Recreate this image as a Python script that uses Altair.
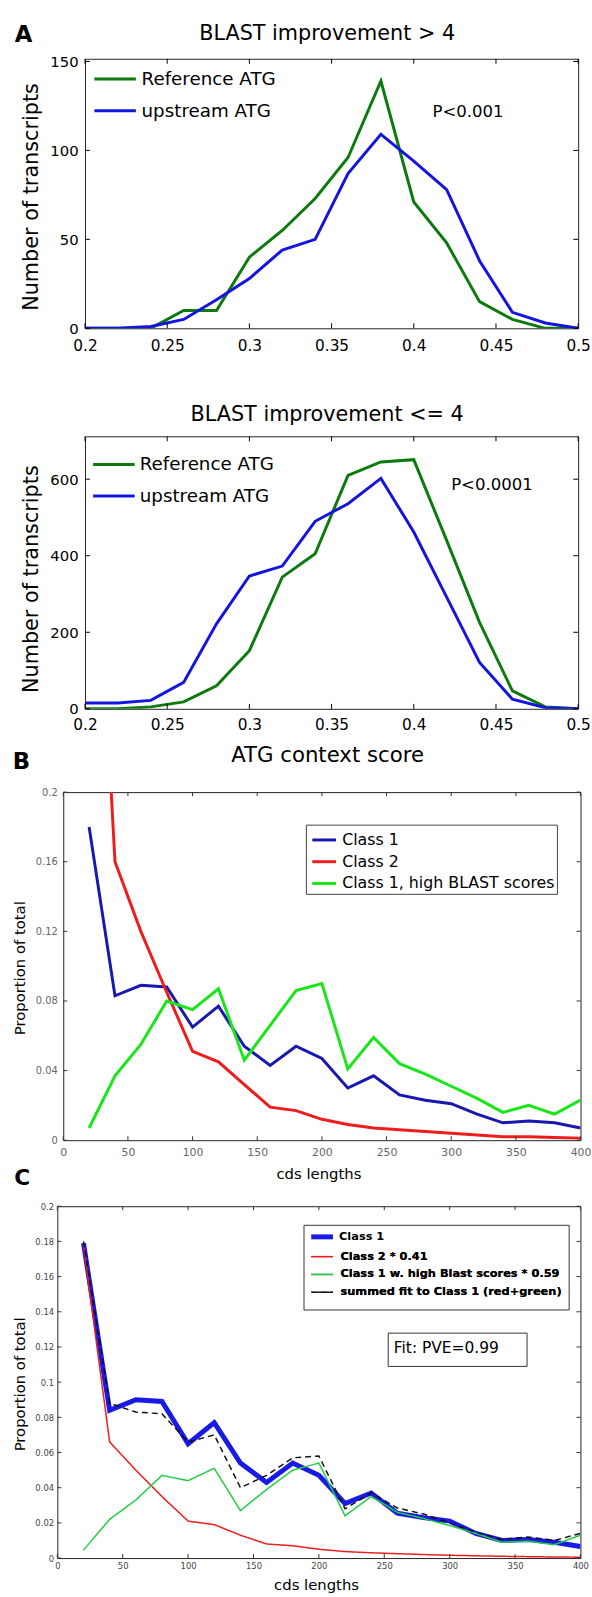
import altair as alt
import pandas as pd

FONT = "DejaVu Sans"

# ---------------- Panel A data ----------------
a_scores = [0.20, 0.22, 0.24, 0.26, 0.28, 0.30, 0.32, 0.34, 0.36, 0.38, 0.40, 0.42, 0.44, 0.46, 0.48, 0.50]
a1_reference = [0, 0, 0, 10, 10, 40, 55, 73, 96, 139, 71, 48, 15, 5, 0, 0]
a1_upstream = [0, 0, 1, 5, 16, 28, 44, 50, 87, 109, 94, 78, 38, 9, 3, 0]
a2_reference = [0, 0, 5, 18, 60, 152, 344, 405, 610, 645, 651, 440, 226, 47, 5, 0]
a2_upstream = [15, 15, 22, 69, 222, 347, 373, 490, 536, 602, 462, 292, 121, 25, 3, 0]
a_series = ["Reference ATG", "upstream ATG"]
a_colors = ["#0d7a0d", "#1414e0"]
a_xticks = [0.2, 0.25, 0.3, 0.35, 0.4, 0.45, 0.5]
a1_yticks = [0, 50, 100, 150]
a2_yticks = [0, 200, 400, 600]

# ---------------- Panel B data ----------------
cds = [20, 40, 60, 80, 100, 120, 140, 160, 180, 200, 220, 240, 260, 280, 300, 320, 340, 360, 380, 400]
b_class1 = [0.180, 0.083, 0.089, 0.088, 0.065, 0.077, 0.054, 0.043, 0.054, 0.047,
            0.030, 0.037, 0.026, 0.023, 0.021, 0.015, 0.010, 0.011, 0.010, 0.007]
b_class2 = [0.434, 0.160, 0.120, 0.085, 0.051, 0.045, 0.032, 0.019, 0.017, 0.012,
            0.009, 0.007, 0.006, 0.005, 0.004, 0.003, 0.002, 0.002, 0.0015, 0.0012]
b_high = [0.007, 0.037, 0.055, 0.080, 0.075, 0.087, 0.046, 0.066, 0.086, 0.090,
          0.041, 0.059, 0.044, 0.038, 0.031, 0.024, 0.016, 0.020, 0.015, 0.023]
b_series = ["Class 1", "Class 2", "Class 1, high BLAST scores"]
b_colors = ["#1818b0", "#ee1c1c", "#19e619"]
b_xticks = [0, 50, 100, 150, 200, 250, 300, 350, 400]
b_yticks = [0, 0.04, 0.08, 0.12, 0.16, 0.2]

# ---------------- Panel C data ----------------
c_class1 = [0.179, 0.084, 0.090, 0.089, 0.065, 0.077, 0.054, 0.043, 0.054, 0.047,
            0.031, 0.037, 0.0255, 0.023, 0.021, 0.014, 0.010, 0.0106, 0.009, 0.0066]
c_class2 = [0.178, 0.066, 0.050, 0.035, 0.021, 0.019, 0.013, 0.008, 0.007, 0.005,
            0.0037, 0.003, 0.0025, 0.002, 0.0016, 0.0013, 0.001, 0.0008, 0.0006, 0.0005]
c_high = [0.0045, 0.022, 0.033, 0.047, 0.044, 0.051, 0.027, 0.039, 0.050, 0.054,
          0.024, 0.035, 0.026, 0.0225, 0.0185, 0.014, 0.009, 0.0096, 0.0076, 0.013]
c_sum = [0.180, 0.088, 0.083, 0.082, 0.066, 0.070, 0.040, 0.047, 0.057, 0.058,
         0.028, 0.037, 0.0285, 0.025, 0.020, 0.0146, 0.0106, 0.012, 0.010, 0.014]
c_main = ["Class 1"]
c_parts = ["Class 2 * 0.41", "Class 1 w. high Blast scores * 0.59",
           "summed fit to Class 1  (red+green)"]
c_main_color = ["#1a1ae6"]
c_part_colors = ["#ee1c1c", "#22cc44", "#111111"]
c_part_dashes = [[1, 0], [1, 0], [6, 4]]
c_yticks = [0, 0.02, 0.04, 0.06, 0.08, 0.1, 0.12, 0.14, 0.16, 0.18, 0.2]


def long_df(xs, named):
    rows = []
    for name, ys in named:
        for xv, yv in zip(xs, ys):
            rows.append({"x": xv, "y": yv, "series": name})
    return pd.DataFrame(rows)


def note(text, x, y, size, weight="normal", align="left", baseline="alphabetic", color="black"):
    return alt.Chart(pd.DataFrame({"t": [text]})).mark_text(
        font=FONT, fontSize=size, fontWeight=weight, align=align, baseline=baseline, color=color
    ).encode(text="t:N", x=alt.value(x), y=alt.value(y))


def spacer(x, y1, y2):
    # invisible box that fixes the extent of each panel in the stacked layout
    return alt.Chart(pd.DataFrame({"t": [0]})).mark_rect(opacity=0).encode(
        x=alt.value(x), x2=alt.value(x + 1), y=alt.value(y1), y2=alt.value(y2)
    )


def inner_ticks(xticks, yticks, xs, ys, xaxis, yaxis, w, h, L, color="black"):
    xt = pd.DataFrame({"x": xticks})
    yt = pd.DataFrame({"y": yticks})
    bx = alt.Chart(xt).mark_rule(color=color, strokeWidth=1)
    by = alt.Chart(yt).mark_rule(color=color, strokeWidth=1)
    return [
        bx.encode(x=alt.X("x:Q", scale=xs, axis=xaxis), y=alt.value(h), y2=alt.value(h - L)),
        bx.encode(x=alt.X("x:Q", scale=xs, axis=xaxis), y=alt.value(0), y2=alt.value(L)),
        by.encode(y=alt.Y("y:Q", scale=ys, axis=yaxis), x=alt.value(0), x2=alt.value(L)),
        by.encode(y=alt.Y("y:Q", scale=ys, axis=yaxis), x=alt.value(w), x2=alt.value(w - L)),
    ]


def a_legend(lx, ly, rp, off):
    return alt.Legend(orient="none", legendX=lx, legendY=ly, title=None, symbolType="stroke",
                      symbolSize=1764, symbolStrokeWidth=3, labelFontSize=18.5, labelFont=FONT,
                      labelColor="black", labelOffset=off, rowPadding=rp, padding=0, labelLimit=400)


# ================= Panel A1 =================
W_A, H_A1, H_A2 = 499, 272.7, 275.7
xs_a = alt.Scale(domain=[0.2, 0.5], nice=False, zero=False)
ys_a1 = alt.Scale(domain=[0, 151.5], nice=False)
ys_a2 = alt.Scale(domain=[0, 712], nice=False)

xax_a1 = alt.Axis(values=a_xticks, format=".2~f", labelFontSize=15.5, labelPadding=10, title=None)
yax_a1 = alt.Axis(values=a1_yticks, format="d", labelFontSize=15, labelPadding=7,
                  title="Number of transcripts", titleFontSize=21, titleX=-54, titleY=139.3,
                  titleAngle=270, titleBaseline="middle", titleAlign="center")
a1_df = long_df(a_scores, [(a_series[0], a1_reference), (a_series[1], a1_upstream)])
a1_lines = alt.Chart(a1_df).mark_line(strokeWidth=3, clip=True).encode(
    x=alt.X("x:Q", scale=xs_a, axis=xax_a1),
    y=alt.Y("y:Q", scale=ys_a1, axis=yax_a1),
    color=alt.Color("series:N", scale=alt.Scale(domain=a_series, range=a_colors),
                    legend=a_legend(8, -2, -13.5, 4.2)),
)
panel_a1 = alt.layer(
    spacer(-79.5, -49, 323),
    a1_lines,
    *inner_ticks(a_xticks, a1_yticks, xs_a, ys_a1, xax_a1, yax_a1, W_A, H_A1, 5),
    note("A", -71.1, -17, 23, weight="bold"),
    note("BLAST improvement > 4", 245, -19, 21, align="center"),
    note("P<0.001", 351.7, 59.3, 16.7),
).properties(width=W_A, height=H_A1)

# ================= Panel A2 =================
xax_a2 = alt.Axis(values=a_xticks, format=".2~f", labelFontSize=15.5, labelPadding=9,
                  title="ATG context score", titleFontSize=21.5, titleX=245, titleY=53.3,
                  titleBaseline="alphabetic", titleAlign="center")
yax_a2 = alt.Axis(values=a2_yticks, format="d", labelFontSize=15, labelPadding=7,
                  title="Number of transcripts", titleFontSize=21, titleX=-54, titleY=144,
                  titleAngle=270, titleBaseline="middle", titleAlign="center")
a2_df = long_df(a_scores, [(a_series[0], a2_reference), (a_series[1], a2_upstream)])
a2_lines = alt.Chart(a2_df).mark_line(strokeWidth=3, clip=True).encode(
    x=alt.X("x:Q", scale=xs_a, axis=xax_a2),
    y=alt.Y("y:Q", scale=ys_a2, axis=yax_a2),
    color=alt.Color("series:N", scale=alt.Scale(domain=a_series, range=a_colors),
                    legend=a_legend(6.7, 5.9, -10.4, 3.7)),
)
panel_a2 = alt.layer(
    spacer(-79.5, -57.3, 346.7),
    a2_lines,
    *inner_ticks(a_xticks, a2_yticks, xs_a, ys_a2, xax_a2, yax_a2, W_A, H_A2, 5),
    note("BLAST improvement <= 4", 245, -16, 21, align="center"),
    note("P<0.0001", 370.5, 54, 16.7),
    note("B", -73.2, 336.7, 23, weight="bold"),
).properties(width=W_A, height=H_A2)

# ================= Panel B =================
W_B, H_B = 523.4, 352.2
xs_b = alt.Scale(domain=[0, 400], nice=False, zero=False)
ys_b = alt.Scale(domain=[0, 0.2], nice=False)
xax_b = alt.Axis(values=b_xticks, format="d", labelFontSize=11, labelColor="#666666",
                 labelPadding=6, title="cds lengths", titleFontSize=15, titleX=258.2,
                 titleY=38.5, titleBaseline="alphabetic", titleAlign="center")
yax_b = alt.Axis(values=b_yticks, format=".2~f", labelFontSize=10, labelColor="#666666",
                 labelPadding=6, title="Proportion of total", titleFontSize=15, titleX=-43.8,
                 titleY=177.7, titleAngle=270, titleBaseline="middle", titleAlign="center")
b_df = long_df(cds, [(b_series[0], b_class1), (b_series[1], b_class2), (b_series[2], b_high)])
b_lines = alt.Chart(b_df).mark_line(strokeWidth=3, clip=True).encode(
    x=alt.X("x:Q", scale=xs_b, axis=xax_b),
    y=alt.Y("y:Q", scale=ys_b, axis=yax_b),
    color=alt.Color("series:N", scale=alt.Scale(domain=b_series, range=b_colors),
                    legend=alt.Legend(orient="none", legendX=245.5, legendY=32.9, title=None,
                                      symbolType="stroke", symbolSize=576, symbolStrokeWidth=3,
                                      symbolOffset=3, labelFontSize=16, labelFont=FONT,
                                      labelColor="black", labelOffset=4.7, rowPadding=-1.8,
                                      padding=2, strokeColor="#444444", fillColor="white",
                                      labelLimit=400)),
)
panel_b = alt.layer(
    spacer(-57, -11.3, 407.7),
    b_lines,
    *inner_ticks(b_xticks, b_yticks, xs_b, ys_b, xax_b, yax_b, W_B, H_B, 4, color="#333333"),
    note("C", -49.7, 397.7, 22, weight="bold"),
).properties(width=W_B, height=H_B)

# ================= Panel C =================
W_C, H_C = 529.3, 356
xs_c = alt.Scale(domain=[0, 400], nice=False, zero=False)
ys_c = alt.Scale(domain=[0, 0.2], nice=False)
xax_c = alt.Axis(values=b_xticks, format="d", labelFontSize=8.5, labelColor="#444444",
                 labelPadding=3.3, title="cds lengths", titleFontSize=15, titleX=261.8,
                 titleY=32, titleBaseline="alphabetic", titleAlign="center")
yax_c = alt.Axis(values=c_yticks, format=".2~f", labelFontSize=8.5, labelColor="#444444",
                 labelPadding=3.8, title="Proportion of total", titleFontSize=15, titleX=-37.9,
                 titleY=179.7, titleAngle=270, titleBaseline="middle", titleAlign="center")
c_main_df = long_df(cds, [(c_main[0], c_class1)])
c_part_df = long_df(cds, [(c_parts[0], c_class2), (c_parts[1], c_high), (c_parts[2], c_sum)])
leg_main = alt.Legend(orient="none", legendX=254, legendY=17.5, title=None, symbolType="stroke",
                      symbolSize=484, symbolStrokeWidth=5, symbolOffset=0.4, labelFontSize=11.5,
                      labelFontWeight="bold", labelFont=FONT, labelColor="black", labelOffset=3.6,
                      padding=0, labelLimit=400)
leg_parts = alt.Legend(orient="none", legendX=254, legendY=39, title=None, symbolType="stroke",
                       symbolSize=484, symbolStrokeWidth=1.5, symbolOffset=1.9, labelFontSize=11.5,
                       labelFontWeight="bold", labelFont=FONT, labelColor="black",
                       labelOffset=6.6, rowPadding=-3.8, padding=0, labelLimit=400)
c_first = alt.Chart(c_main_df).mark_line(clip=True, strokeWidth=5).encode(
    x=alt.X("x:Q", scale=xs_c, axis=xax_c),
    y=alt.Y("y:Q", scale=ys_c, axis=yax_c),
    color=alt.Color("series:N", scale=alt.Scale(domain=c_main, range=c_main_color),
                    legend=leg_main),
)
c_rest = alt.Chart(c_part_df).mark_line(clip=True, strokeWidth=1.5).encode(
    x=alt.X("x:Q", scale=xs_c, axis=xax_c),
    y=alt.Y("y:Q", scale=ys_c, axis=yax_c),
    color=alt.Color("series:N", scale=alt.Scale(domain=c_parts, range=c_part_colors),
                    legend=leg_parts),
    strokeDash=alt.StrokeDash("series:N", scale=alt.Scale(domain=c_parts, range=c_part_dashes),
                              legend=leg_parts),
)
legend_box = alt.Chart(pd.DataFrame({"t": [0]})).mark_rect(
    fill="white", stroke="#333333", strokeWidth=1
).encode(x=alt.value(249.6), x2=alt.value(517.9), y=alt.value(19.3), y2=alt.value(105))
fit_box = alt.Chart(pd.DataFrame({"t": [0]})).mark_rect(
    fill="white", stroke="#333333", strokeWidth=1
).encode(x=alt.value(334.8), x2=alt.value(475.3), y=alt.value(128.4), y2=alt.value(162.1))
panel_c = alt.layer(
    spacer(-51.1, -9, 393),
    c_first,
    c_rest,
    *inner_ticks(b_xticks, c_yticks, xs_c, ys_c, xax_c, yax_c, W_C, H_C, 4, color="#333333"),
    legend_box,
    fit_box,
    note("Fit: PVE=0.99", 340.5, 148.6, 15.6),
).resolve_scale(color="independent").resolve_legend(color="independent").properties(
    width=W_C, height=H_C
)


def row(panel):
    # a 1-px invisible lead-in view so each panel keeps its own left offset
    lead = alt.Chart(pd.DataFrame({"t": [0]})).mark_point(opacity=0).encode(
        x=alt.value(0), y=alt.value(0)
    ).properties(width=1, height=1, view=alt.ViewBackground(strokeOpacity=0))
    return alt.hconcat(lead, panel, spacing=0).resolve_scale(
        color="independent", strokeDash="independent"
    ).resolve_legend(color="independent", strokeDash="independent")


chart = alt.vconcat(
    row(panel_a1), row(panel_a2), row(panel_b), row(panel_c), spacing=0
).resolve_scale(
    color="independent", strokeDash="independent"
).resolve_legend(
    color="independent", strokeDash="independent"
).properties(
    padding=0, background="white"
).configure_view(stroke="#222222", strokeWidth=1).configure_axis(
    grid=False, ticks=False, tickSize=0, domain=False, labelFont=FONT, titleFont=FONT,
    titleFontWeight="normal", labelColor="black", titleColor="black",
    labelOverlap=False, labelFlush=False, labelBound=False
).configure_legend(labelFont=FONT).configure_concat(spacing=0)

chart.save("out.html", embed_options={"renderer": "svg", "actions": False})
